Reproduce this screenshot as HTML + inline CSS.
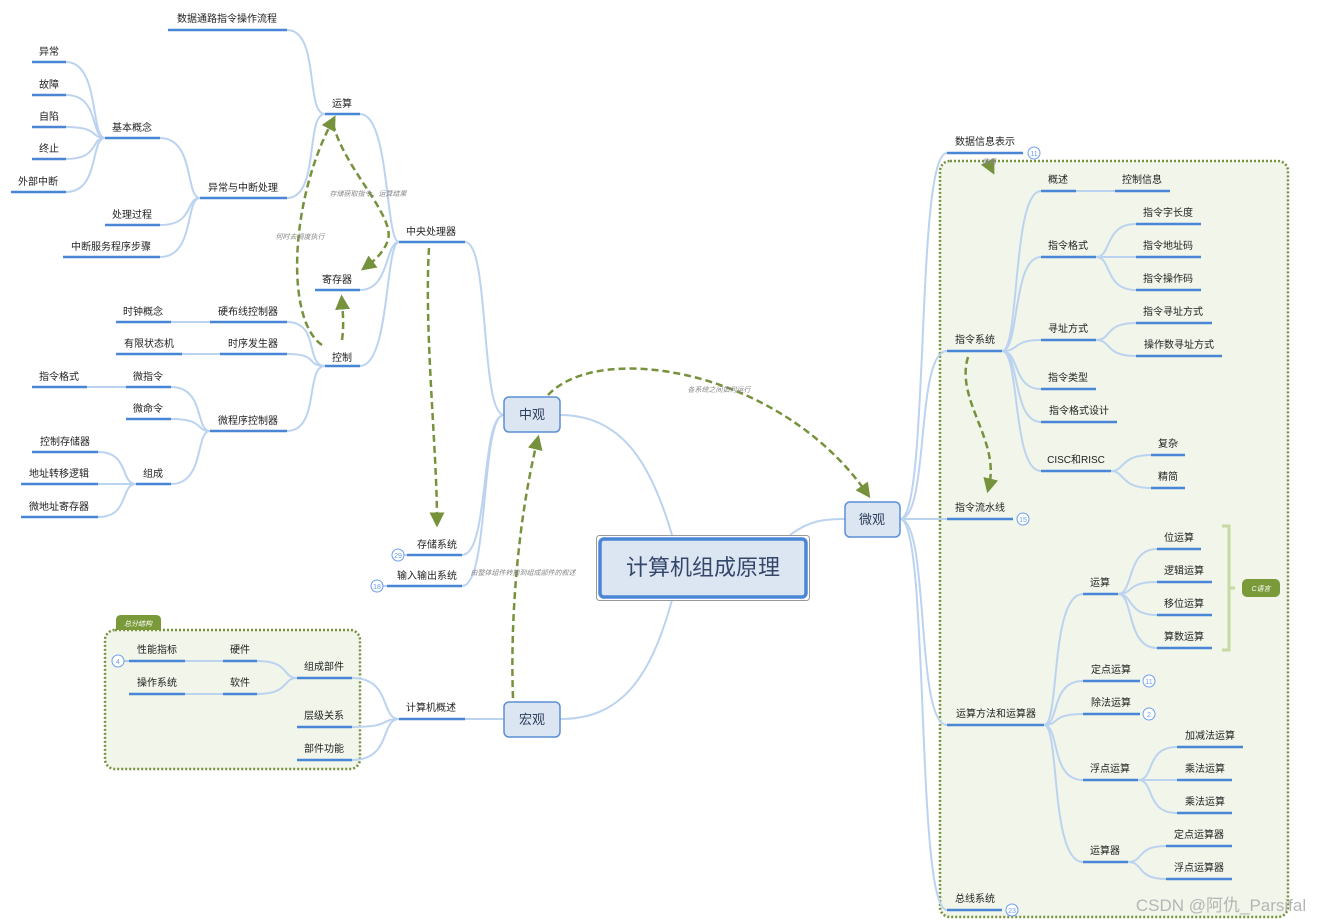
<!DOCTYPE html>
<html><head><meta charset="utf-8"><style>
html,body{margin:0;padding:0;background:#fff;width:1329px;height:924px;overflow:hidden}
svg{display:block}
text{font-family:"Liberation Sans","Noto Sans CJK SC",sans-serif;font-size:10px;fill:#222;text-anchor:middle}
.u{stroke:#4a86d6;stroke-width:2.5}
.c{stroke:#bcd3ef;stroke-width:2;fill:none}
.d{stroke:#76923c;stroke-width:2.5;fill:none;stroke-dasharray:7 4}
.lb{font-size:7px;fill:#888;font-style:italic}
.bd{fill:#fff;stroke:#6d9eeb;stroke-width:1}
.bt{font-size:7px;fill:#6d9eeb}
</style></head><body>
<svg width="1329" height="924" viewBox="0 0 1329 924">
<defs><marker id="a" markerWidth="6" markerHeight="6" refX="3" refY="3" orient="auto" markerUnits="strokeWidth"><path d="M0,0 L6,3 L0,6 z" fill="#76923c"/></marker></defs>

<!-- boxes -->
<rect x="105" y="630" width="255" height="139" rx="10" fill="#f1f5ea" stroke="#76923c" stroke-width="2.5" stroke-dasharray="2 2"/>
<path d="M116,630 L116,620 Q116,615 121,615 L156,615 Q161,615 161,620 L161,630 Z" fill="#7a9a3a"/>
<text x="138" y="626" style="font-size:7px;fill:#fff;font-style:italic">总分结构</text>
<rect x="940" y="161" width="348" height="756" rx="10" fill="#f1f5ea" stroke="#76923c" stroke-width="2.5" stroke-dasharray="2 2"/>

<!-- connectors left -->
<g class="c">
<path d="M504,415 C480,415 490,242 465,242"/>
<path d="M504,415 C480,415 490,555 462,555"/>
<path d="M504,415 C480,415 490,586 462,586"/>
<path d="M399,242 C385,242 390,114 360,114"/>
<path d="M399,242 C385,242 390,290 360,290"/>
<path d="M399,242 C385,242 390,366 360,366"/>
<path d="M325,114 C305,114 320,30 287,30"/>
<path d="M325,114 C305,114 320,198 287,198"/>
<path d="M200,198 C185,198 195,138 160,138"/>
<path d="M200,198 C185,198 195,225 160,225"/>
<path d="M200,198 C185,198 195,257 160,257"/>
<path d="M105,138 C90,138 100,62 66,62"/>
<path d="M105,138 C90,138 100,95 66,95"/>
<path d="M105,138 C90,138 100,127 66,127"/>
<path d="M105,138 C90,138 100,159 66,159"/>
<path d="M105,138 C90,138 100,192 66,192"/>
<path d="M325,366 C305,366 320,322 287,322"/>
<path d="M325,366 C305,366 320,354 287,354"/>
<path d="M325,366 C305,366 320,431 287,431"/>
<path d="M210,322 L171,322"/><path d="M220,354 L182,354"/>
<path d="M210,431 C195,431 205,387 171,387"/>
<path d="M210,431 C195,431 205,419 171,419"/>
<path d="M210,431 C195,431 205,484 171,484"/>
<path d="M126,387 L87,387"/>
<path d="M136,484 C120,484 130,452 98,452"/>
<path d="M136,484 L98,484"/>
<path d="M136,484 C120,484 130,517 98,517"/>
<path d="M504,719 L465,719"/>
<path d="M399,719 C380,719 392,678 352,678"/>
<path d="M399,719 C380,719 392,727 352,727"/>
<path d="M399,719 C380,719 392,760 352,760"/>
<path d="M297,678 C282,678 290,661 257,661"/>
<path d="M297,678 C282,678 290,694 257,694"/>
<path d="M223,661 L185,661"/><path d="M223,694 L185,694"/>
<!-- center -->
<path d="M672,535 C650,460 620,415 560,415"/>
<path d="M672,600 C650,680 620,719 560,719"/>
<path d="M790,535 C810,520 825,519 845,519"/>
<!-- right -->
<path d="M900,519 C930,519 915,153 947,153"/>
<path d="M900,519 C930,519 915,351 947,351"/>
<path d="M900,519 L947,519"/>
<path d="M900,519 C930,519 915,725 947,725"/>
<path d="M900,519 C930,519 915,910 947,910"/>
<path d="M1002,351 C1020,351 1012,191 1041,191"/>
<path d="M1002,351 C1020,351 1012,257 1041,257"/>
<path d="M1002,351 C1020,351 1012,340 1041,340"/>
<path d="M1002,351 C1020,351 1012,389 1041,389"/>
<path d="M1002,351 C1020,351 1012,422 1041,422"/>
<path d="M1002,351 C1020,351 1012,471 1041,471"/>
<path d="M1076,191 L1115,191"/>
<path d="M1096,257 C1112,257 1104,224 1136,224"/>
<path d="M1096,257 L1136,257"/>
<path d="M1096,257 C1112,257 1104,290 1136,290"/>
<path d="M1096,340 C1112,340 1104,323 1136,323"/>
<path d="M1096,340 C1112,340 1104,356 1136,356"/>
<path d="M1111,471 C1125,471 1120,455 1151,455"/>
<path d="M1111,471 C1125,471 1120,488 1151,488"/>
<path d="M1044,725 C1060,725 1050,594 1083,594"/>
<path d="M1044,725 C1060,725 1050,681 1083,681"/>
<path d="M1044,725 C1060,725 1050,714 1083,714"/>
<path d="M1044,725 C1060,725 1050,780 1083,780"/>
<path d="M1044,725 C1060,725 1050,862 1083,862"/>
<path d="M1118,594 C1134,594 1126,549 1157,549"/>
<path d="M1118,594 C1134,594 1126,582 1157,582"/>
<path d="M1118,594 C1134,594 1126,615 1157,615"/>
<path d="M1118,594 C1134,594 1126,648 1157,648"/>
<path d="M1138,780 C1155,780 1145,747 1177,747"/>
<path d="M1138,780 L1177,780"/>
<path d="M1138,780 C1155,780 1145,813 1177,813"/>
<path d="M1128,862 C1144,862 1136,846 1166,846"/>
<path d="M1128,862 C1144,862 1136,879 1166,879"/>
</g>

<!-- bracket -->
<path d="M1222,526 L1229,526 L1229,650 L1222,650 M1229,588 L1235,588" stroke="#c5d9a0" stroke-width="3" fill="none"/>
<rect x="1242" y="579" width="38" height="18" rx="5" fill="#7a9a3a"/>
<text x="1261" y="591" style="font-size:7px;fill:#fff;font-style:italic">C语言</text>

<!-- underlines + labels -->
<g class="u">
<line x1="168" x2="287" y1="30" y2="30"/><line x1="32" x2="66" y1="62" y2="62"/><line x1="32" x2="66" y1="95" y2="95"/><line x1="32" x2="66" y1="127" y2="127"/><line x1="32" x2="66" y1="159" y2="159"/><line x1="11" x2="66" y1="192" y2="192"/>
<line x1="105" x2="160" y1="138" y2="138"/><line x1="105" x2="160" y1="225" y2="225"/><line x1="63" x2="160" y1="257" y2="257"/><line x1="200" x2="287" y1="198" y2="198"/>
<line x1="325" x2="360" y1="114" y2="114"/><line x1="315" x2="360" y1="290" y2="290"/><line x1="325" x2="360" y1="366" y2="366"/><line x1="399" x2="465" y1="242" y2="242"/>
<line x1="116" x2="171" y1="322" y2="322"/><line x1="210" x2="287" y1="322" y2="322"/><line x1="116" x2="182" y1="354" y2="354"/><line x1="220" x2="287" y1="354" y2="354"/>
<line x1="32" x2="87" y1="387" y2="387"/><line x1="126" x2="171" y1="387" y2="387"/><line x1="126" x2="171" y1="419" y2="419"/><line x1="210" x2="287" y1="431" y2="431"/>
<line x1="32" x2="98" y1="452" y2="452"/><line x1="21" x2="98" y1="484" y2="484"/><line x1="21" x2="98" y1="517" y2="517"/><line x1="136" x2="171" y1="484" y2="484"/>
<line x1="407" x2="462" y1="555" y2="555"/><line x1="387" x2="462" y1="586" y2="586"/>
<line x1="129" x2="185" y1="661" y2="661"/><line x1="129" x2="185" y1="694" y2="694"/><line x1="223" x2="257" y1="661" y2="661"/><line x1="223" x2="257" y1="694" y2="694"/>
<line x1="297" x2="352" y1="678" y2="678"/><line x1="297" x2="352" y1="727" y2="727"/><line x1="297" x2="352" y1="760" y2="760"/><line x1="399" x2="465" y1="719" y2="719"/>
<line x1="947" x2="1023" y1="153" y2="153"/><line x1="947" x2="1002" y1="351" y2="351"/><line x1="947" x2="1013" y1="519" y2="519"/><line x1="947" x2="1044" y1="725" y2="725"/><line x1="947" x2="1002" y1="910" y2="910"/>
<line x1="1041" x2="1076" y1="191" y2="191"/><line x1="1115" x2="1170" y1="191" y2="191"/><line x1="1041" x2="1096" y1="257" y2="257"/>
<line x1="1136" x2="1201" y1="224" y2="224"/><line x1="1136" x2="1201" y1="257" y2="257"/><line x1="1136" x2="1201" y1="290" y2="290"/>
<line x1="1041" x2="1096" y1="340" y2="340"/><line x1="1136" x2="1212" y1="323" y2="323"/><line x1="1136" x2="1222" y1="356" y2="356"/>
<line x1="1041" x2="1096" y1="389" y2="389"/><line x1="1041" x2="1117" y1="422" y2="422"/><line x1="1041" x2="1111" y1="471" y2="471"/>
<line x1="1151" x2="1185" y1="455" y2="455"/><line x1="1151" x2="1185" y1="488" y2="488"/>
<line x1="1083" x2="1118" y1="594" y2="594"/><line x1="1157" x2="1201" y1="549" y2="549"/><line x1="1157" x2="1212" y1="582" y2="582"/><line x1="1157" x2="1212" y1="615" y2="615"/><line x1="1157" x2="1212" y1="648" y2="648"/>
<line x1="1083" x2="1140" y1="681" y2="681"/><line x1="1083" x2="1140" y1="714" y2="714"/><line x1="1083" x2="1138" y1="780" y2="780"/>
<line x1="1177" x2="1243" y1="747" y2="747"/><line x1="1177" x2="1232" y1="780" y2="780"/><line x1="1177" x2="1232" y1="813" y2="813"/>
<line x1="1083" x2="1128" y1="862" y2="862"/><line x1="1166" x2="1232" y1="846" y2="846"/><line x1="1166" x2="1232" y1="879" y2="879"/>
</g>
<g>
<text x="227" y="22">数据通路指令操作流程</text><text x="49" y="55">异常</text><text x="49" y="88">故障</text><text x="49" y="120">自陷</text><text x="49" y="152">终止</text><text x="38" y="185">外部中断</text>
<text x="132" y="131">基本概念</text><text x="132" y="218">处理过程</text><text x="111" y="250">中断服务程序步骤</text><text x="243" y="191">异常与中断处理</text>
<text x="342" y="107">运算</text><text x="337" y="283">寄存器</text><text x="342" y="361">控制</text><text x="431" y="235">中央处理器</text>
<text x="143" y="315">时钟概念</text><text x="248" y="315">硬布线控制器</text><text x="149" y="347">有限状态机</text><text x="253" y="347">时序发生器</text>
<text x="59" y="380">指令格式</text><text x="148" y="380">微指令</text><text x="148" y="412">微命令</text><text x="248" y="424">微程序控制器</text>
<text x="65" y="445">控制存储器</text><text x="59" y="477">地址转移逻辑</text><text x="59" y="510">微地址寄存器</text><text x="153" y="477">组成</text>
<text x="437" y="548">存储系统</text><text x="427" y="579">输入输出系统</text>
<text x="157" y="653">性能指标</text><text x="157" y="686">操作系统</text><text x="240" y="653">硬件</text><text x="240" y="686">软件</text>
<text x="324" y="670">组成部件</text><text x="324" y="719">层级关系</text><text x="324" y="752">部件功能</text><text x="431" y="711">计算机概述</text>
<text x="985" y="145">数据信息表示</text><text x="975" y="343">指令系统</text><text x="980" y="511">指令流水线</text><text x="996" y="717">运算方法和运算器</text><text x="975" y="902">总线系统</text>
<text x="1058" y="183">概述</text><text x="1142" y="183">控制信息</text><text x="1068" y="249">指令格式</text>
<text x="1168" y="216">指令字长度</text><text x="1168" y="249">指令地址码</text><text x="1168" y="282">指令操作码</text>
<text x="1068" y="332">寻址方式</text><text x="1173" y="315">指令寻址方式</text><text x="1179" y="348">操作数寻址方式</text>
<text x="1068" y="381">指令类型</text><text x="1079" y="414">指令格式设计</text><text x="1076" y="463">CISC和RISC</text>
<text x="1168" y="447">复杂</text><text x="1168" y="480">精简</text>
<text x="1100" y="586">运算</text><text x="1179" y="541">位运算</text><text x="1184" y="574">逻辑运算</text><text x="1184" y="607">移位运算</text><text x="1184" y="640">算数运算</text>
<text x="1111" y="673">定点运算</text><text x="1111" y="706">除法运算</text><text x="1110" y="772">浮点运算</text>
<text x="1210" y="739">加减法运算</text><text x="1205" y="772">乘法运算</text><text x="1205" y="805">乘法运算</text>
<text x="1105" y="854">运算器</text><text x="1199" y="838">定点运算器</text><text x="1199" y="871">浮点运算器</text>
</g>

<!-- badges -->
<g>
<line x1="403" x2="407" y1="555" y2="555" stroke="#6d9eeb"/><circle class="bd" cx="398" cy="555" r="6"/><text class="bt" x="398" y="558">29</text>
<line x1="383" x2="387" y1="586" y2="586" stroke="#6d9eeb"/><circle class="bd" cx="377" cy="586" r="6"/><text class="bt" x="377" y="589">18</text>
<line x1="124" x2="129" y1="661" y2="661" stroke="#6d9eeb"/><circle class="bd" cx="118" cy="661" r="6"/><text class="bt" x="118" y="664">4</text>
<circle class="bd" cx="1034" cy="153" r="6"/><text class="bt" x="1034" y="156">11</text>
<circle class="bd" cx="1023" cy="519" r="6"/><text class="bt" x="1023" y="522">15</text>
<circle class="bd" cx="1149" cy="681" r="6"/><text class="bt" x="1149" y="684">11</text>
<circle class="bd" cx="1149" cy="714" r="6"/><text class="bt" x="1149" y="717">2</text>
<circle class="bd" cx="1012" cy="910" r="6"/><text class="bt" x="1012" y="913">23</text>
</g>

<!-- main boxes -->
<rect x="504" y="397" width="56" height="35" rx="5" fill="#dce6f3" stroke="#5b8fd6" stroke-width="1.5"/><text x="532" y="419" style="font-size:13px;fill:#2d3e5c">中观</text>
<rect x="504" y="702" width="56" height="35" rx="5" fill="#dce6f3" stroke="#5b8fd6" stroke-width="1.5"/><text x="532" y="724" style="font-size:13px;fill:#2d3e5c">宏观</text>
<rect x="845" y="502" width="55" height="35" rx="5" fill="#dce6f3" stroke="#5b8fd6" stroke-width="1.5"/><text x="872" y="524" style="font-size:13px;fill:#2d3e5c">微观</text>
<rect x="596.5" y="535.5" width="213" height="65" rx="3" fill="#fff" stroke="#999" stroke-width="1"/>
<rect x="600" y="539" width="206" height="58" rx="4" fill="#dce6f3" stroke="#4a86d6" stroke-width="3.5"/>
<text x="703" y="575" style="font-size:22px;fill:#34476b">计算机组成原理</text>

<!-- dashed arrows -->
<g class="d">
<path d="M322,345 C285,320 290,200 332,122" marker-end="url(#a)"/>
<path d="M333,124 C345,170 395,215 388,240 C384,252 375,260 367,266" marker-end="url(#a)"/>
<path d="M342,340 C344,325 343,315 342,302" marker-end="url(#a)"/>
<path d="M429,248 C424,330 437,450 437,520" marker-end="url(#a)"/>
<path d="M513,698 C510,620 518,520 537,442" marker-end="url(#a)"/>
<path d="M548,395 C600,340 780,370 866,492" marker-end="url(#a)"/>
<path d="M968,357 C955,400 1000,440 989,486" marker-end="url(#a)"/>
<path d="M990,166 L991,168" marker-end="url(#a)"/>
</g>
<text class="lb" x="300" y="239">何时去调度执行</text>
<text class="lb" x="368" y="196">存储获取指令、运算结果</text>
<text class="lb" x="523" y="575">由整体组件转换到组成部件的叙述</text>
<text class="lb" x="719" y="392">各系统之间如何运行</text>
<text class="lb" x="989" y="164">使用</text>

<text x="1221" y="911" style="font-size:17px;fill:#b5b5b5">CSDN @阿仇_Parsifal</text>
</svg>
</body></html>
